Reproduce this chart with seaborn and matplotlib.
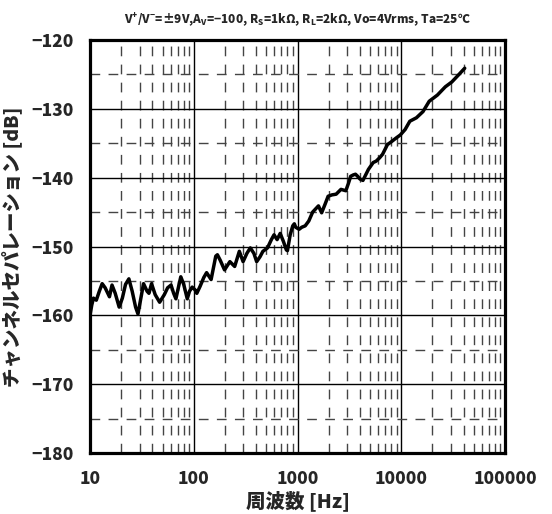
import numpy as np
import pandas as pd
import matplotlib
matplotlib.use("Agg")
import matplotlib.pyplot as plt
import seaborn as sns
from matplotlib.ticker import FixedLocator, FuncFormatter, NullFormatter

freq_hz = [10.0, 10.4, 10.8, 11.5, 12.3, 13.1, 14.0, 15.4, 16.3, 17.5, 19.1, 20.5, 22.0, 23.7,
           25.5, 27.5, 29.0, 30.5, 32.8, 35.5, 37.0, 39.2, 42.5, 46.9, 52.0, 56.0, 60.4, 64.0,
           67.3, 71.0, 75.0, 80.0, 86.6, 91.0, 96.6, 103, 107, 115, 125, 133, 147, 163, 169,
           180, 198, 223, 248, 275, 299, 325, 351, 380, 404, 435, 464, 514, 560, 594, 636,
           681, 733, 781, 800, 850, 900, 932, 960, 1036, 1100, 1186, 1284, 1400, 1482, 1592,
           1709, 1850, 1973, 2150, 2357, 2625, 2925, 3100, 3256, 3450, 3622, 3800, 4000, 4271,
           4825, 5366, 5730, 6197, 6606, 7355, 8000, 8480, 9000, 9788, 10900, 12100, 14000,
           16200, 18600, 22300, 26600, 30700, 35500, 40900]
separation_db = [-160.0, -158.5, -157.5, -157.8, -156.5, -155.4, -156.0, -157.3, -155.6, -156.8,
                 -158.8, -157.5, -155.5, -154.7, -156.5, -158.8, -159.8, -158.0, -155.4, -156.5,
                 -156.8, -155.4, -157.0, -158.1, -157.0, -156.0, -155.6, -156.8, -157.6, -156.0,
                 -154.4, -155.5, -157.6, -156.5, -155.9, -156.3, -156.8, -155.8, -154.5, -153.8,
                 -154.8, -151.4, -151.2, -152.0, -153.4, -152.2, -152.9, -150.7, -152.2, -151.0,
                 -150.2, -151.0, -152.2, -151.5, -150.7, -150.2, -149.0, -148.3, -149.0, -148.1,
                 -149.3, -150.5, -150.6, -148.3, -147.0, -146.7, -147.2, -147.5, -147.2, -147.0,
                 -146.3, -145.0, -144.6, -144.1, -145.1, -143.8, -142.7, -142.5, -142.4, -141.7,
                 -141.9, -140.8, -139.8, -139.6, -139.5, -139.8, -140.2, -140.4, -138.8, -137.8,
                 -137.6, -137.1, -136.6, -135.2, -134.8, -134.5, -134.2, -133.8, -133.0, -131.8,
                 -131.3, -130.4, -128.9, -128.0, -126.8, -126.1, -125.1, -124.1]

x_ticks = [10, 100, 1000, 10000, 100000]
x_tick_labels = ["10", "100", "1000", "10000", "100000"]
y_ticks = [-120, -130, -140, -150, -160, -170, -180]
title_text = (r"$\mathregular{V^{+}/V^{-}}$=±9V,A$_\mathregular{V}$=−100, "
              r"R$_\mathregular{S}$=1kΩ, R$_\mathregular{L}$=2kΩ, Vo=4Vrms, Ta=25℃")
x_label = "周波数 [Hz]"
y_label = "チャンネルセパレーション [dB]"

df = pd.DataFrame({"freq": freq_hz, "db": separation_db})

sns.set_style("white")
plt.rcParams["font.family"] = ["Noto Sans CJK JP", "DejaVu Sans"]
plt.rcParams["font.weight"] = "bold"
plt.rcParams["mathtext.default"] = "regular"
plt.rcParams["axes.unicode_minus"] = True

fig = plt.figure(figsize=(5.52, 5.14), dpi=100)
ax = fig.add_axes([90 / 552, 1 - 453 / 514, (505 - 90) / 552, (453 - 40) / 514])

sns.lineplot(data=df, x="freq", y="db", ax=ax, color="black", linewidth=2.5,
             solid_joinstyle="round", solid_capstyle="round")

ax.set_xscale("log")
ax.set_xlim(10, 100000)
ax.set_ylim(-180, -120)

ax.xaxis.set_major_locator(FixedLocator(x_ticks))
ax.xaxis.set_major_formatter(FuncFormatter(lambda v, p: x_tick_labels[x_ticks.index(int(round(v)))] if int(round(v)) in x_ticks else ""))
minor_x = [m * d for d in [10, 100, 1000, 10000] for m in range(2, 10)]
ax.xaxis.set_minor_locator(FixedLocator(minor_x))
ax.xaxis.set_minor_formatter(NullFormatter())
ax.yaxis.set_major_locator(FixedLocator(y_ticks))
ax.yaxis.set_minor_locator(FixedLocator([-125, -135, -145, -155, -165, -175]))
ax.yaxis.set_major_formatter(FuncFormatter(lambda v, p: "−%d" % abs(v)))

ax.grid(which="major", color="black", linewidth=1.0, linestyle="-")
ax.grid(which="minor", color="#444444", linewidth=1.0, linestyle=(0, (7, 6)))
ax.set_axisbelow(True)

ax.tick_params(which="both", length=0, labelsize=12.5)
ax.tick_params(axis="x", pad=12)
ax.tick_params(axis="y", pad=12)
for lab in ax.get_xticklabels() + ax.get_yticklabels():
    lab.set_fontweight("heavy")

for s in ax.spines.values():
    s.set_visible(True)
    s.set_color("black")
    s.set_linewidth(2.3)

ax.set_xlabel(x_label, fontsize=14, fontweight="heavy", labelpad=2)
ax.set_ylabel(y_label, fontsize=14, fontweight="heavy", labelpad=6)
ax.set_title(title_text, fontsize=8.5, fontweight="heavy", pad=12)

fig.savefig("out.png", dpi=100)
